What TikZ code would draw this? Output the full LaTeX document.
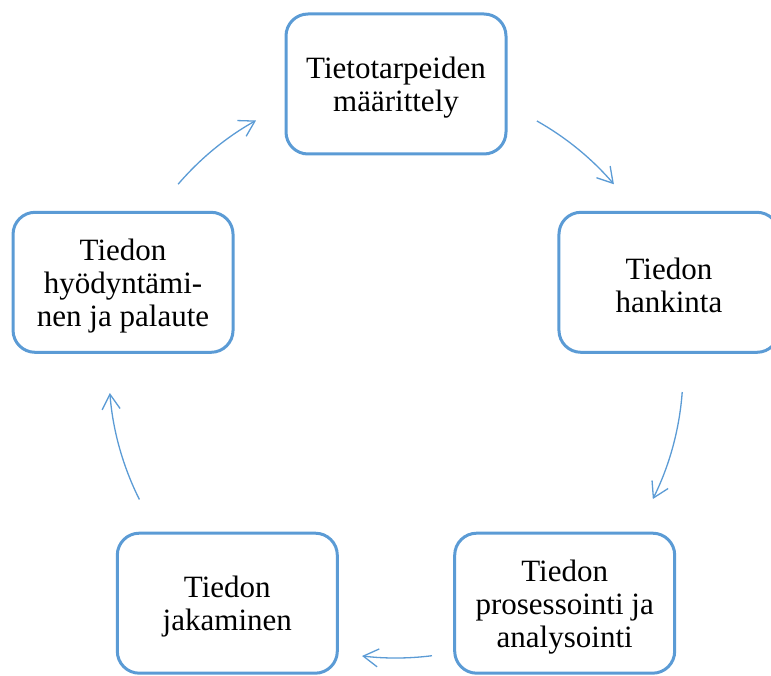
\documentclass[tikz,border=0pt]{standalone}
\usepackage{fontspec}
\setmainfont{Liberation Serif}
\usetikzlibrary{arrows.meta,calc}
\definecolor{boxblue}{HTML}{5B9BD5}
\tikzset{
  stagebox/.style={draw=boxblue, line width=3pt, rounded corners=22pt,
    minimum width=220pt, minimum height=140pt, inner sep=0pt},
  stagetext/.style={align=center, inner sep=0pt,
    font=\fontsize{31}{33}\selectfont, text=black},
  conn/.style={draw=boxblue, line width=1.3pt,
    -{Straight Barb[length=15pt,width=18pt,line width=1.3pt]}}
}
\begin{document}
\begin{tikzpicture}[x=1pt,y=1pt]
\useasboundingbox (0,0) rectangle (771,675);
\coordinate (c) at (396,304);
\node[stagebox] (top) at ($(c)+(90:287pt)$) {};
\node[stagebox] (right) at ($(c)+(18:287pt)$) {};
\node[stagebox] (br) at ($(c)+(-54:287pt)$) {};
\node[stagebox] (bl) at ($(c)+(-126:287pt)$) {};
\node[stagebox] (left) at ($(c)+(162:287pt)$) {};
\node[stagetext] (toptext) at ([yshift=-3.5pt]top.center) {Tietotarpeiden\\määrittely};
\node[stagetext] (righttext) at ([yshift=-3.5pt]right.center) {Tiedon\\hankinta};
\node[stagetext] (brtext) at ([yshift=-3.5pt]br.center) {Tiedon\\prosessointi ja\\analysointi};
\node[stagetext] (bltext) at ([yshift=-3.5pt]bl.center) {Tiedon\\jakaminen};
\node[stagetext] (lefttext) at ([yshift=-3.5pt]left.center) {Tiedon\\hyödyntämi-\\nen ja palaute};
\coordinate (s1) at ($(c)+(60.6:287pt)$);
\coordinate (s2) at ($(c)+(-4.2:287pt)$);
\coordinate (s3) at ($(c)+(-82.8:287pt)$);
\coordinate (s4) at ($(c)+(-153.4:287pt)$);
\coordinate (s5) at ($(c)+(139.4:287pt)$);
\draw[conn] (s1) arc[start angle=60.6, end angle=40.6, radius=287pt];
\draw[conn] (s2) arc[start angle=-4.2, end angle=-26.5, radius=287pt];
\draw[conn] (s3) arc[start angle=-82.8, end angle=-96.8, radius=287pt];
\draw[conn] (s4) arc[start angle=-153.4, end angle=-175.6, radius=287pt];
\draw[conn] (s5) arc[start angle=139.4, end angle=119.2, radius=287pt];
\end{tikzpicture}
\end{document}
